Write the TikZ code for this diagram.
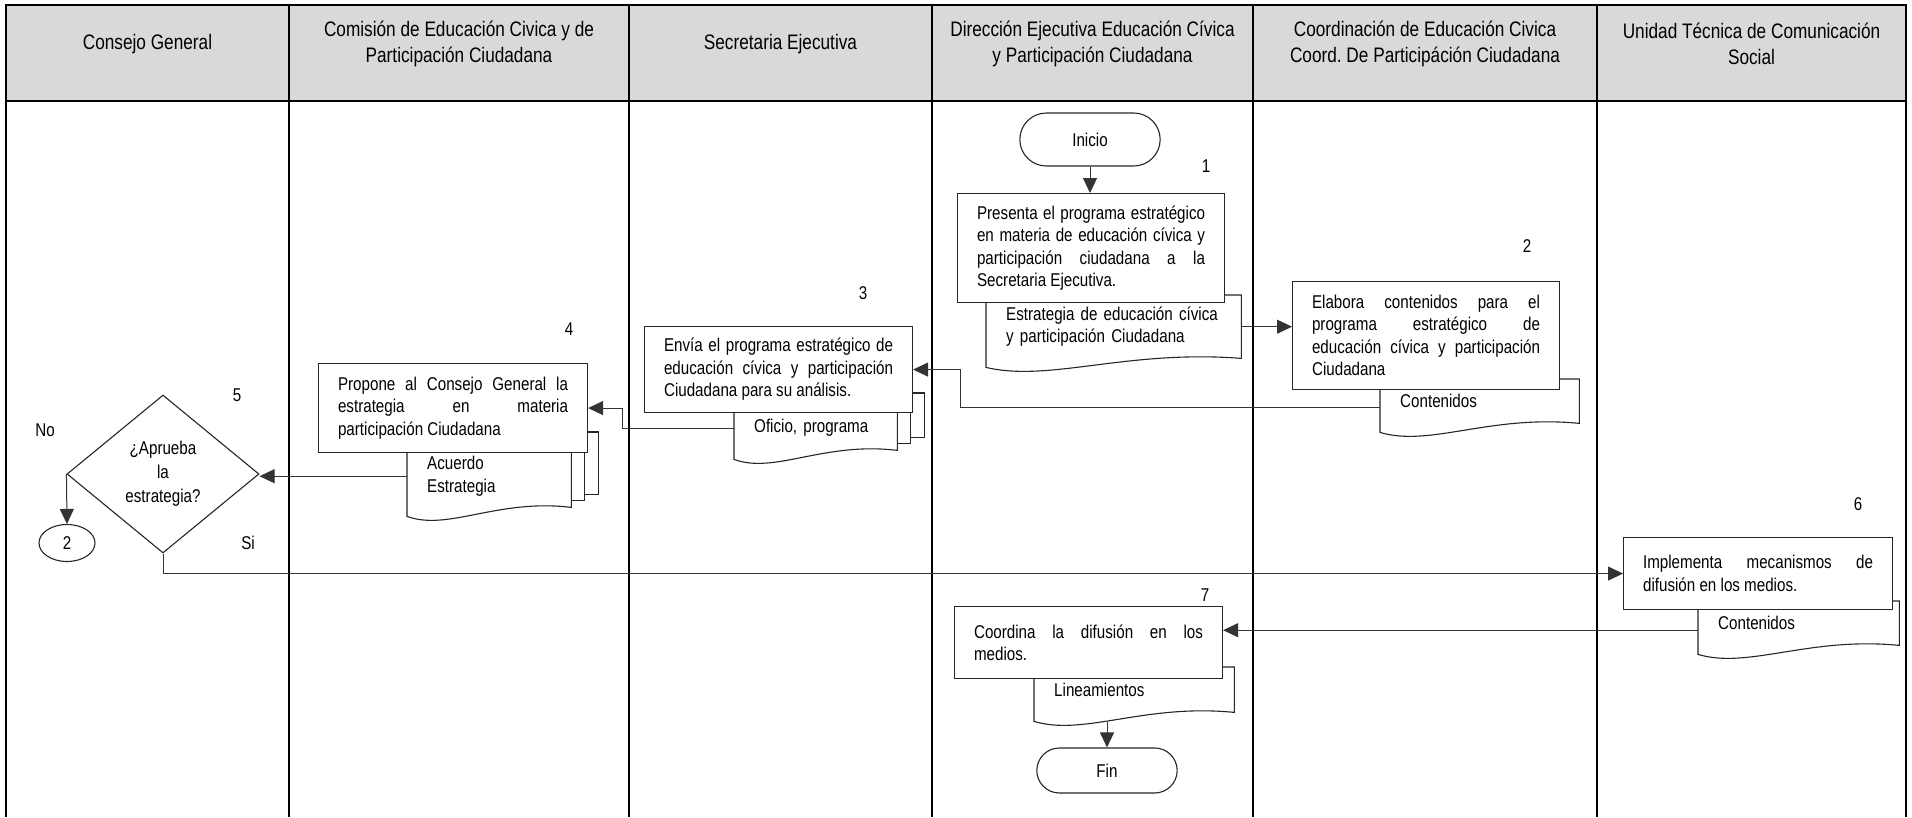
\documentclass[tikz,border=0pt]{standalone}
\usepackage{fontspec}
\setmainfont{Liberation Sans}[FakeStretch=0.82]
\usetikzlibrary{shapes.geometric, shapes.misc, arrows.meta, positioning, backgrounds, calc}

\begin{document}
\begin{tikzpicture}[
  x=1pt, y=-1pt,
  every node/.style={font=\fontsize{18.5}{22.5}\selectfont},
  lanehead/.style={draw=black, line width=1.6pt, fill=black!15},
  laneline/.style={draw=black, line width=1.2pt},
  lanetitle/.style={align=center, font=\fontsize{21}{26}\selectfont},
  proceso/.style={rectangle, draw=black!85, line width=1.1pt, fill=white, anchor=north west,
    inner xsep=19.5pt, inner ysep=0pt, align=justify},
  doctext/.style={rectangle, anchor=north west, inner xsep=20pt, inner ysep=0pt, align=left},
  docline/.style={draw=black!85, line width=1.1pt, fill=white},
  terminal/.style={rounded rectangle, draw=black!85, line width=1.1pt, fill=white,
    minimum width=147pt},
  decision/.style={diamond, draw=black!85, line width=1.1pt, fill=white, aspect=1.2,
    minimum width=192pt, minimum height=158pt, inner sep=0pt, align=center,
    font=\fontsize{18.5}{24}\selectfont},
  conector/.style={ellipse, draw=black!85, line width=1.1pt, minimum width=56pt,
    minimum height=37pt, inner sep=0pt},
  num/.style={inner sep=0pt},
  arr/.style={-{Triangle[length=15pt, width=14pt]}, line width=1pt, black!80}
]
\useasboundingbox (0,0) rectangle (1912,817);

% ===== CARRILES =====
\foreach \xa/\xb/\titulo [count=\i] in {
  6/289/{Consejo General},
  289/629/{Comisión de Educación Civica y de\\Participación Ciudadana},
  629/932/{Secretaria Ejecutiva},
  932/1253/{Dirección Ejecutiva Educación Cívica\\y Participación Ciudadana},
  1253/1597/{Coordinación de Educación Civica\\Coord.\ De Participáción Ciudadana},
  1597/1906/{Unidad Técnica de Comunicación\\Social}} {
  \draw[lanehead] (\xa,5) rectangle (\xb,101);
  \node[lanetitle] (h\i) at ({(\xa+\xb)/2},44) {\titulo};
}
\foreach \xl in {6,289,629,932,1253,1597,1906}
  \draw[laneline] (\xl,101) -- (\xl,817);
\draw[line width=2pt] (6,101) -- (1906,101);

% ===== DIRECCION EJECUTIVA: INICIO =====
\node[terminal, minimum height=53pt] (ini) at (1090,139.5) {Inicio};
\node[num] (n1) at (1206,166) {1};
\node[proceso, text width=228pt, minimum width=267pt, minimum height=109pt] (b1) at (957,193)
  {Presenta el programa estratégico\linebreak en materia de educación cívica y\linebreak
   participación ciudadana a la\linebreak Secretaria Ejecutiva.};
\node[doctext, text width=215pt, minimum width=255pt, minimum height=63pt] (d1) at (986,295)
  {Estrategia de educación cívica\\y participación Ciudadana};

% ===== COORDINACION =====
\node[num] (n2) at (1527,246) {2};
\node[doctext, text width=159pt, minimum width=199pt, minimum height=44pt] (d2) at (1380,379)
  {Contenidos};
\node[proceso, text width=228pt, minimum width=267pt, minimum height=108pt] (b2) at (1292,281)
  {Elabora contenidos para el\linebreak programa estratégico de\linebreak
   educación cívica y participación\linebreak Ciudadana};

% ===== SECRETARIA EJECUTIVA =====
\node[num] (n3) at (863,293) {3};
\node[doctext, text width=123pt, minimum width=163pt, minimum height=44pt] (d3) at (734,406)
  {Oficio, programa};
\node[proceso, text width=229pt, minimum width=268pt, minimum height=86pt] (b3) at (644,326)
  {Envía el programa estratégico de\linebreak educación cívica y participación\linebreak
   Ciudadana para su análisis.};

% ===== COMISION =====
\node[num] (n4) at (569,329) {4};
\node[doctext, text width=124pt, minimum width=164pt, minimum height=62pt] (d4) at (407,445)
  {Acuerdo\\Estrategia};
\node[proceso, text width=230pt, minimum width=269pt, minimum height=89pt] (b4) at (318,363)
  {Propone al Consejo General la\linebreak estrategia en materia\linebreak
   participación Ciudadana};

% ===== CONSEJO GENERAL =====
\node[decision] (dec) at (163,474) {¿Aprueba\\la\\estrategia?};
\node[num] (n5) at (237,395) {5};
\node[num] (no) at (45,430) {No};
\node[num] (si) at (248,543) {Si};
\node[conector] (c2) at (67,543) {2};

% ===== UNIDAD TECNICA =====
\node[num] (n6) at (1858,504) {6};
\node[doctext, text width=161pt, minimum width=201pt, minimum height=44pt] (d6) at (1698,601)
  {Contenidos};
\node[proceso, text width=230pt, minimum width=269pt, minimum height=72pt] (b6) at (1623,537)
  {Implementa mecanismos de\linebreak difusión en los medios.};

% ===== DIFUSION Y FIN =====
\node[num] (n7) at (1205,595) {7};
\node[doctext, text width=160pt, minimum width=200pt, minimum height=45pt] (d7) at (1034,667)
  {Lineamientos};
\node[proceso, text width=229pt, minimum width=268pt, minimum height=72pt] (b7) at (954,606)
  {Coordina la difusión en los\linebreak medios.};
\node[terminal, minimum height=45pt] (fin) at (1107,770.5) {Fin};

% ===== DOCUMENTOS =====
\begin{scope}[on background layer]
  \foreach \d in {d3,d4}
    \foreach \s in {2,1}
      \draw[docline] ($(\d.north west)+(13.5*\s,-6.5*\s)$) rectangle ($(\d.south east)+(13.5*\s,-6.5*\s)$);
  \foreach \d in {d1,d2,d3,d4,d6,d7}
    \draw[docline] (\d.north west) -- (\d.north east) -- (\d.south east)
      .. controls ($(\d.south west)!0.55!(\d.south east)+(0,-9)$)
      and ($(\d.south west)!0.25!(\d.south east)+(0,24)$) .. ($(\d.south west)+(0,9)$) -- cycle;
\end{scope}

% ===== CONECTORES =====
\draw[arr] (ini.south) -- (ini.south |- b1.north);
\draw[arr] (d1.east) -- (d1.east -| b2.west);
\draw[arr] ($(d2.west)+(0,6)$) -| ($(b3.east)+(47,0)$) -- (b3.east);
\draw[arr] (d3.west) -| ($(b4.east)+(34,0)$) -- (b4.east);
\draw[arr] (d4.west) -- (d4.west -| dec.east);
\draw[arr] (dec.west) -- (c2.north);
\draw[arr] (dec.south) |- (b6.west);
\coordinate (c6) at ($(d6.west)+(0,7)$);
\draw[arr] (c6) -- (c6 -| b7.east);
\draw[arr] ($(fin.north)+(0,-25)$) -- (fin.north);
\end{tikzpicture}
\end{document}
